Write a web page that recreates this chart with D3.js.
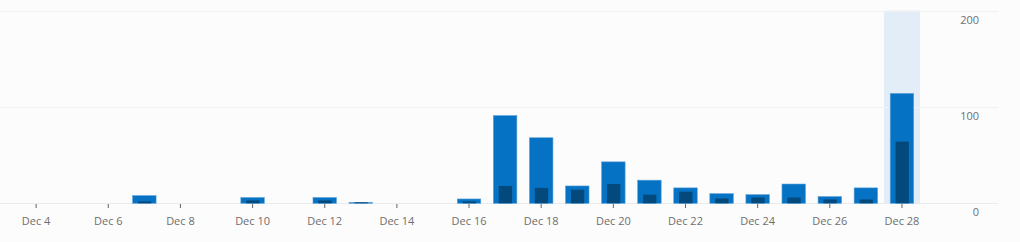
<!DOCTYPE html>
<html>
<head>
<meta charset="utf-8">
<script src="https://cdn.jsdelivr.net/npm/d3@7"></script>
<style>
  html, body { margin: 0; padding: 0; background: #fcfcfc; }
  svg { display: block; }
  text { font-family: "Open Sans", "Noto Sans", sans-serif; }
</style>
</head>
<body>
<svg id="chart" width="1020" height="242"></svg>
<script>
// ---- data ----
const days = [3,4,5,6,7,8,9,10,11,12,13,14,15,16,17,18,19,20,21,22,23,24,25,26,27,28];
const totalValues = [0,0,0,0,8,0,0,6,0,6,1,0,0,4.5,91,68,18,43,24,16,10,9,20,7,16,114];
const innerValues = [0,0,0,0,2,0,0,3,0,3,1,0,0,2,18,16,14,20,9,12,5,6,6,4,4,64];
const tickDays = [4,6,8,10,12,14,16,18,20,22,24,26,28];
const yTicks = [0,100,200];
const highlightDay = 28;
const monthLabel = "Dec";

const svg = d3.select("#chart");
const W = 1020, H = 242;

const x = d3.scaleBand().domain(days).range([-18, 920]).paddingInner(0).paddingOuter(0);
const y = d3.scaleLinear().domain([0, 200]).range([203.3, 10.5]);

const gridRight = 998;

// highlight band
svg.append("rect")
  .attr("x", x(highlightDay))
  .attr("y", y(200))
  .attr("width", x.bandwidth())
  .attr("height", y(0) - y(200))
  .attr("fill", "#e3edf7");

// grid lines
svg.append("g").selectAll("line").data(yTicks).join("line")
  .attr("x1", 0).attr("x2", gridRight)
  .attr("y1", d => Math.round(y(d)) + 0.5).attr("y2", d => Math.round(y(d)) + 0.5)
  .attr("stroke", d => d === 0 ? "#e8ecef" : "#f1f1f1")
  .attr("stroke-width", 1);

// y labels
svg.append("g").selectAll("text").data(yTicks).join("text")
  .attr("x", 979)
  .attr("y", d => y(d) + 13)
  .attr("text-anchor", "end")
  .attr("font-size", "11px")
  .attr("fill", "#6e6e6e")
  .text(d => d);

const barW = 23.5, innerW = 13.3;
const data = days.map((d, i) => ({ day: d, total: totalValues[i], inner: innerValues[i] }));

// outer bars
svg.append("g").selectAll("rect").data(data.filter(d => d.total > 0)).join("rect")
  .attr("x", d => x(d.day) + x.bandwidth() / 2 - barW / 2)
  .attr("y", d => y(d.total))
  .attr("width", barW)
  .attr("height", d => y(0) - y(d.total))
  .attr("fill", "#0672c3")
  .attr("stroke", "#5fa3da")
  .attr("stroke-width", 0.6);

// inner bars
svg.append("g").selectAll("rect").data(data.filter(d => d.inner > 0)).join("rect")
  .attr("x", d => x(d.day) + x.bandwidth() / 2 - innerW / 2 + 0.3)
  .attr("y", d => y(d.inner))
  .attr("width", innerW)
  .attr("height", d => y(0) - y(d.inner))
  .attr("fill", "#04497b");

// x axis ticks & labels
const xAxis = d3.axisBottom(x)
  .tickValues(tickDays)
  .tickSize(4)
  .tickPadding(9)
  .tickFormat(d => monthLabel + " " + d);

const gx = svg.append("g")
  .attr("transform", `translate(0,${Math.round(y(0)) + 1})`)
  .call(xAxis);
gx.select(".domain").remove();
gx.selectAll(".tick line").attr("stroke", "#666").attr("stroke-width", 1);
gx.selectAll(".tick text")
  .attr("fill", "#6e6e6e")
  .attr("font-size", "11px")
  .attr("font-family", "\"Open Sans\", \"Noto Sans\", sans-serif");
</script>
</body>
</html>
